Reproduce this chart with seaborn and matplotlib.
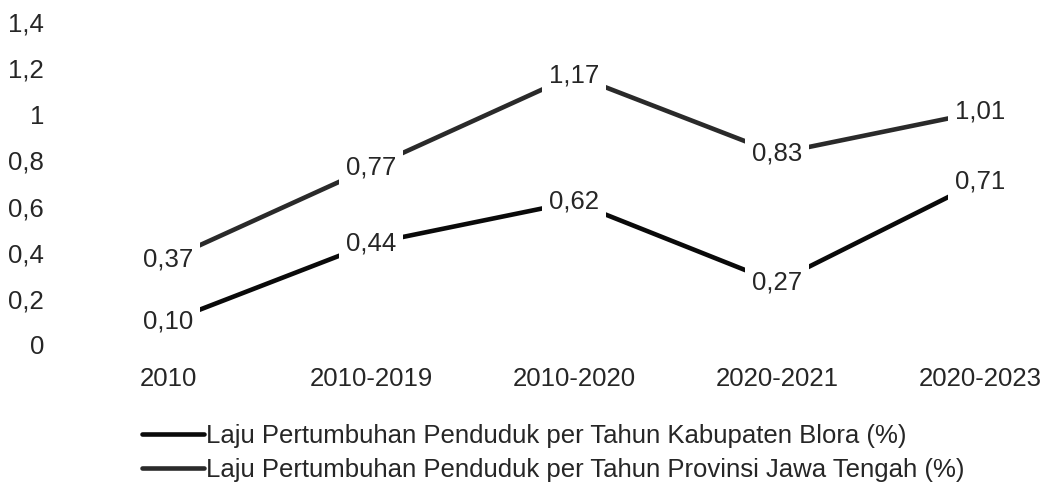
import matplotlib
matplotlib.use("Agg")
from matplotlib import pyplot as plt
import pandas as pd
import seaborn as sns

periode = ['2010', '2010-2019', '2010-2020', '2020-2021', '2020-2023']
blora = [0.10, 0.44, 0.62, 0.27, 0.71]
jateng = [0.37, 0.77, 1.17, 0.83, 1.01]
label_blora = 'Laju Pertumbuhan Penduduk per Tahun Kabupaten Blora (%)'
label_jateng = 'Laju Pertumbuhan Penduduk per Tahun Provinsi Jawa Tengah (%)'
yticks = [0, 0.2, 0.4, 0.6, 0.8, 1, 1.2, 1.4]
ytick_labels = ['0', '0,2', '0,4', '0,6', '0,8', '1', '1,2', '1,4']

FS = 18.5


def fmt(v):
    return ('%.2f' % v).replace('.', ',')


def main():
    sns.set_style("white")
    plt.rcParams['font.family'] = ['Liberation Sans', 'DejaVu Sans']

    # long format for seaborn
    df = pd.concat([
        pd.DataFrame({'periode': periode, 'value': blora, 'type': label_blora}),
        pd.DataFrame({'periode': periode, 'value': jateng, 'type': label_jateng}),
    ], ignore_index=True)
    df['x'] = df['periode'].map({p: i for i, p in enumerate(periode)})

    fig = plt.figure(figsize=(10.46, 4.91), dpi=100)
    ax = fig.add_axes([55 / 1046, 1 - 345 / 491, (1040 - 55) / 1046, 323 / 491])

    colors = {label_blora: '#0a0a0a', label_jateng: '#2a2a2a'}
    sns.lineplot(data=df, x='x', y='value', hue='type', ax=ax,
                 palette=colors, linewidth=3.3, legend=False)

    # value labels sit on the points, white box hides the line
    for i in range(len(periode)):
        for vals in (blora, jateng):
            ax.text(i, vals[i], fmt(vals[i]), ha='center', va='center', fontsize=FS,
                    bbox=dict(facecolor='white', edgecolor='none', pad=5), zorder=5)

    ax.set_xlim(-0.557, 4.296)
    ax.set_ylim(0, 1.4)
    ax.set_xticks(range(len(periode)))
    ax.set_xticklabels(periode, fontsize=FS)
    ax.set_yticks(yticks)
    ax.set_yticklabels(ytick_labels, fontsize=FS)
    ax.tick_params(axis='x', length=0, pad=16)
    ax.tick_params(axis='y', length=0, pad=8)
    ax.set_xlabel('')
    ax.set_ylabel('')
    sns.despine(ax=ax, left=True, bottom=True)

    handles = [plt.Line2D([], [], color=colors[label_blora], linewidth=3.3),
               plt.Line2D([], [], color=colors[label_jateng], linewidth=3.3)]
    fig.legend(handles, [label_blora, label_jateng], loc='upper left',
               bbox_to_anchor=(142 / 1046, 1 - 424 / 491), frameon=False,
               fontsize=FS, handlelength=2.4, handletextpad=0.1, labelspacing=0.4,
               borderpad=0, borderaxespad=0)

    plt.savefig('out.png', dpi=100)


if __name__ == '__main__':
    main()
